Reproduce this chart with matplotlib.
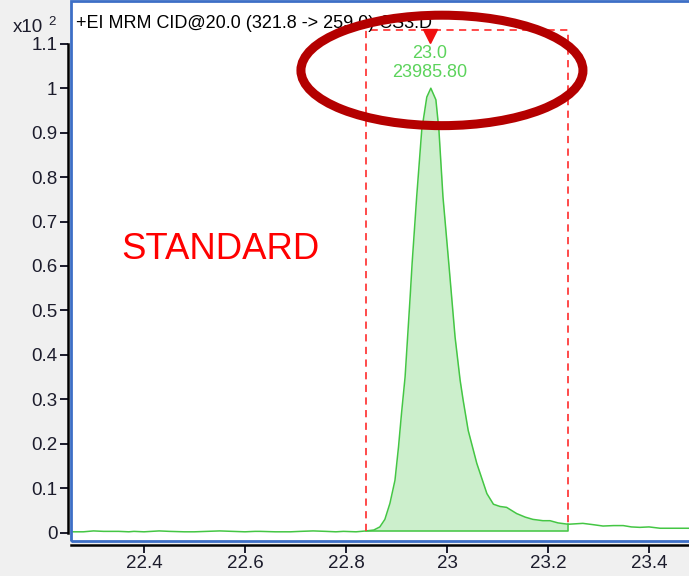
import matplotlib
matplotlib.use("Agg")
from matplotlib import pyplot as plt
from matplotlib.patches import Ellipse, Rectangle
import numpy as np

plt.rcParams['font.family'] = ['Liberation Sans', 'DejaVu Sans']

# chromatogram trace (x10^2 counts vs acquisition time, min)
rt = [22.255, 22.28, 22.30, 22.32, 22.35, 22.37, 22.38, 22.40, 22.43, 22.45,
      22.48, 22.50, 22.525, 22.55, 22.575, 22.60, 22.62, 22.63, 22.66, 22.69,
      22.71, 22.735, 22.76, 22.78, 22.795, 22.82, 22.84,
      22.855, 22.867, 22.877, 22.887, 22.897, 22.904, 22.910, 22.917, 22.927,
      22.931, 22.940, 22.950, 22.960, 22.968, 22.978, 22.984, 22.992, 23.004,
      23.016, 23.026, 23.032, 23.042, 23.059, 23.079, 23.092, 23.105, 23.118,
      23.138, 23.155, 23.170, 23.190, 23.204, 23.22, 23.24, 23.269, 23.29,
      23.309, 23.33, 23.349, 23.365, 23.382, 23.40, 23.422, 23.45, 23.48]
counts = [0.002, 0.002, 0.004, 0.003, 0.003, 0.002, 0.003, 0.002, 0.004, 0.003,
          0.002, 0.002, 0.003, 0.004, 0.003, 0.002, 0.003, 0.003, 0.002, 0.002,
          0.003, 0.004, 0.003, 0.002, 0.003, 0.002, 0.004,
          0.006, 0.013, 0.030, 0.066, 0.118, 0.193, 0.269, 0.35, 0.53,
          0.607, 0.756, 0.906, 0.98, 1.0, 0.974, 0.906, 0.756, 0.60,
          0.44, 0.343, 0.298, 0.23, 0.156, 0.088, 0.064, 0.059, 0.057,
          0.043, 0.035, 0.030, 0.027, 0.027, 0.022, 0.019, 0.021, 0.018,
          0.015, 0.016, 0.016, 0.013, 0.012, 0.013, 0.010, 0.010, 0.010]

peak_start, peak_end = 22.84, 23.24
peak_base = 0.004
peak_rt_label = "23.0"
peak_area_label = "23985.80"
apex_rt = 22.966
title = "+EI MRM CID@20.0 (321.8 -> 259.0) CS3.D"

xticks = [22.4, 22.6, 22.8, 23.0, 23.2, 23.4]
xticklabels = ["22.4", "22.6", "22.8", "23", "23.2", "23.4"]
yticks = [0, 0.1, 0.2, 0.3, 0.4, 0.5, 0.6, 0.7, 0.8, 0.9, 1.0, 1.1]
yticklabels = ["0", "0.1", "0.2", "0.3", "0.4", "0.5", "0.6", "0.7", "0.8",
               "0.9", "1", "1.1"]

W, H = 689, 576
fig = plt.figure(figsize=(W / 100, H / 100), dpi=100, facecolor="#f0f0f0")
ax = fig.add_axes([70.5 / W, 1 - 540.7 / H, 1 - 70.5 / W, (540.7 - 1.3) / H])
ax.set_facecolor("white")
ax.set_xlim(22.2545, 23.4792)
ax.set_ylim(-0.018, 1.1955)

green = "#44c644"
rt = np.array(rt)
counts = np.array(counts)
ax.plot(rt, counts, color=green, lw=1.1, zorder=3)
m = (rt >= peak_start) & (rt <= peak_end)
ax.fill_between(rt[m], counts[m], peak_base, color="#ccefcc", lw=0, zorder=2)
ax.plot([peak_start, peak_end, peak_end],
        [peak_base, peak_base, counts[rt == peak_end][0]],
        color=green, lw=1.1, zorder=3)

# integration window
red = "#ff3b3b"
top = 1.132
dash = dict(color=red, lw=1.3, ls=(0, (4, 3)), zorder=4)
ax.plot([peak_start, peak_start, peak_end, peak_end],
        [counts[rt == peak_start][0], top, top, counts[rt == peak_end][0]],
        **dash)
ax.plot([apex_rt], [1.118], marker="v", ms=10, color="#f01010", mec="#f01010",
        zorder=5, clip_on=False)
ax.text(apex_rt, 1.078, peak_rt_label, color="#5cd35c", fontsize=13,
        ha="center", va="center", zorder=5)
ax.text(apex_rt, 1.035, peak_area_label, color="#5cd35c", fontsize=13,
        ha="center", va="center", zorder=5)

ax.text(22.3545, 0.616, "STANDARD", color="#ff0000", fontsize=26.3,
        ha="left", va="baseline")

ax.text(76 / W, 1 - 28.5 / H, title, transform=fig.transFigure, fontsize=13,
        color="black", ha="left", va="baseline", zorder=6)

ax.add_patch(Ellipse((22.990, 1.040), 282 / 505, 110.5 / 444.7, fill=False,
                     ec="#b40000", lw=6.5, zorder=10, clip_on=False))

# frame: blue box plus offset black axes
ax.add_patch(Rectangle((0, 0), 1.2, 1, transform=ax.transAxes, fill=False,
                       ec="#3d6fc6", lw=2.0, clip_on=False, zorder=7))
for s in ["top", "right"]:
    ax.spines[s].set_visible(False)
ax.spines["left"].set_position(("outward", 2.0))
ax.spines["bottom"].set_position(("outward", 3.0))
ax.spines["left"].set_bounds(0, 1.1)
ax.spines["left"].set_linewidth(1.8)
ax.spines["bottom"].set_linewidth(1.8)

ax.set_xticks(xticks, xticklabels)
ax.set_yticks(yticks, yticklabels)
ax.tick_params(direction="out", length=5.5, width=1.4, colors="#1c1c2c",
               labelsize=13.5, pad=2)

fig.text(13 / W, 1 - 31.5 / H, "x10", fontsize=13.5, color="#1c1c2c",
         ha="left", va="baseline")
fig.text(48 / W, 1 - 25 / H, "2", fontsize=9.5, color="#1c1c2c",
         ha="left", va="baseline")

fig.savefig("out.png", dpi=100, facecolor=fig.get_facecolor())
